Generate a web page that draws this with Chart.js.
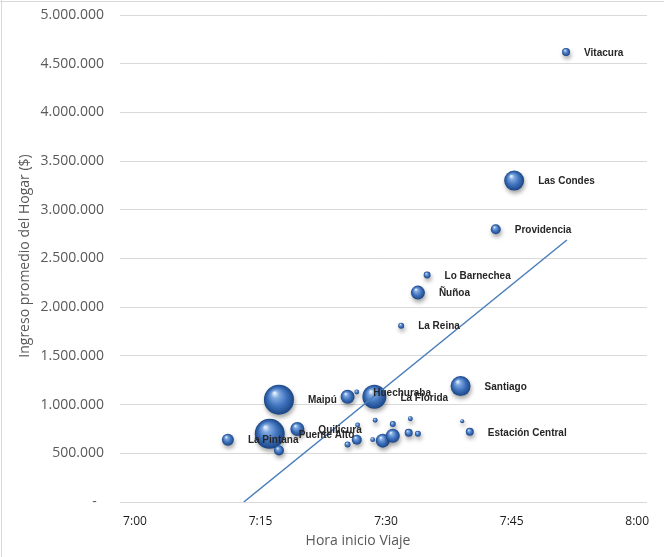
<!DOCTYPE html>
<html>
<head>
<meta charset="utf-8">
<script src="https://cdn.jsdelivr.net/npm/chart.js@4/dist/chart.umd.min.js"></script>
<style>
html,body{margin:0;padding:0;background:#fff}
#wrap{width:664px;height:557px;position:relative}
</style>
</head>
<body>
<div id="wrap"><canvas id="c" width="664" height="557"></canvas></div>
<script>
// ---- Data ----
const comunas = ['Vitacura','Las Condes','Providencia','Lo Barnechea','Ñuñoa','La Reina','Santiago','Estación Central','',
  'Maipú','','Huechuraba','La Florida','La Pintana','Puente Alto','Quilicura','',
  '','','','','','','','','','',''];
// minutes after 7:00
const horaInicio = [51.5,45.3,43.1,34.9,33.8,31.8,38.9,40.0,39.1,
  17.2,25.4,26.5,28.6,11.1,16.1,19.4,17.2,
  28.7,30.8,32.9,26.6,26.5,25.4,28.4,29.6,30.8,32.7,33.8];
const ingresoHogar = [4620000,3300000,2800000,2330000,2150000,1810000,1190000,720000,830000,
  1050000,1080000,1130000,1080000,640000,700000,750000,530000,
  840000,800000,855000,790000,640000,590000,640000,630000,680000,710000,700000];
// bubble weight (relative number of trips)
const viajes = [16,100,25,12,49,9,100,16,4,
  225,49,6,144,36,225,49,25,
  6,9,6,6,25,9,6,49,49,16,9];
const tendenciaX = [13.0, 51.6];
const tendenciaY = [0, 2690000];
const xTicks = [0,15,30,45,60];
const xTickLabels = ['7:00','7:15','7:30','7:45','8:00'];
const yMin = 0, yMax = 5000000, yStep = 500000;
const tituloX = 'Hora inicio Viaje';
const tituloY = 'Ingreso promedio del Hogar ($)';

const bubbleData = comunas.map((n,i)=>({x:horaInicio[i], y:ingresoHogar[i], r:Math.sqrt(viajes[i])}));
const trendData = tendenciaX.map((x,i)=>({x:x, y:tendenciaY[i]}));

function sphere(c){
  const ch = c.chart; const raw = c.raw;
  if(!raw || !ch.scales || !ch.scales.x || !ch.scales.y) return '#4f81bd';
  const x = ch.scales.x.getPixelForValue(raw.x), y = ch.scales.y.getPixelForValue(raw.y), r = Math.max(raw.r,1);
  if(!isFinite(x) || !isFinite(y)) return '#4f81bd';
  const g = ch.ctx.createRadialGradient(x - r*0.3, y - r*0.45, r*0.05, x, y, r);
  g.addColorStop(0, '#e4eefa');
  g.addColorStop(0.22, '#7fa8e0');
  g.addColorStop(0.6, '#3f72bd');
  g.addColorStop(1, '#1a4584');
  return g;
}
function fmt(v){ return v===0 ? '-  ' : String(v).replace(/\B(?=(\d{3})+(?!\d))/g,'.'); }

const deco = {
  id:'deco',
  beforeDraw(chart){
    const ctx = chart.ctx;
    ctx.save();
    ctx.fillStyle = '#fff'; ctx.fillRect(0,0,chart.width,chart.height);
    ctx.strokeStyle = '#d9d9d9'; ctx.lineWidth = 1;
    ctx.beginPath(); ctx.moveTo(1.5,0); ctx.lineTo(1.5,chart.height); ctx.moveTo(0,1.5); ctx.lineTo(chart.width,1.5); ctx.stroke();
    ctx.restore();
  },
  beforeDatasetDraw(chart, args){
    if(args.meta.type === 'bubble'){
      const ctx = chart.ctx; ctx.save();
      ctx.shadowColor = 'rgba(0,0,0,0.35)'; ctx.shadowBlur = 4; ctx.shadowOffsetX = 1; ctx.shadowOffsetY = 3;
    }
  },
  afterDatasetDraw(chart, args){
    if(args.meta.type === 'bubble') chart.ctx.restore();
  },
  afterDatasetsDraw(chart){
    const ctx = chart.ctx;
    const meta = chart.getDatasetMeta(1);
    ctx.save();
    ctx.font = 'bold 10px "Liberation Sans"';
    ctx.fillStyle = '#262626';
    ctx.textBaseline = 'middle';
    ctx.textAlign = 'left';
    meta.data.forEach((el,i)=>{
      const name = comunas[i]; if(!name) return;
      ctx.fillText(name, el.x + el.options.radius + 14, el.y + 1);
    });
    ctx.font = '14px "Open Sans"';
    ctx.fillStyle = '#595959';
    ctx.textAlign = 'center';
    ctx.fillText(tituloX, 358, 541);
    ctx.translate(25, 256);
    ctx.rotate(-Math.PI/2);
    ctx.fillText(tituloY, 0, 0);
    ctx.restore();
  }
};

new Chart(document.getElementById('c'), {
  type: 'bubble',
  data: {
    datasets: [
      { type:'line', label:'Tendencia', data: trendData, borderColor:'#4a7ebb', borderWidth:1.5,
        pointRadius:0, fill:false, tension:0 },
      { type:'bubble', label:'Comunas', data: bubbleData, backgroundColor: sphere, borderWidth:0, hoverRadius:0 }
    ]
  },
  options: {
    responsive:false,
    devicePixelRatio:1,
    animation:false,
    events:[],
    layout:{ autoPadding:false, padding:{ left:0, top:15, right:17, bottom:0 } },
    plugins:{ legend:{display:false}, tooltip:{enabled:false} },
    scales:{
      x:{
        type:'linear', min:-1.79, max:61.17,
        afterBuildTicks:(s)=>{ s.ticks = xTicks.map(v=>({value:v})); },
        afterFit:(s)=>{ s.height = 55; s.paddingLeft = 0; s.paddingRight = 0; },
        grid:{ display:false, drawTicks:false },
        border:{ display:false },
        ticks:{ padding:12, autoSkip:false, maxRotation:0, color:'#1a1a1a',
          font:{ family:'"Open Sans"', size:12 },
          callback:(v)=>{ const k = xTicks.indexOf(v); return k>=0 ? xTickLabels[k] : ''; } }
      },
      y:{
        type:'linear', min:yMin, max:yMax,
        afterFit:(s)=>{ s.width = 120; s.paddingTop = 8; s.paddingBottom = 8; },
        grid:{ color:'#d9d9d9', lineWidth:1, drawTicks:false },
        border:{ display:false },
        ticks:{ stepSize:yStep, padding:16, color:'#595959',
          font:{ family:'"Open Sans"', size:14 }, callback:(v)=>fmt(v) }
      }
    }
  },
  plugins:[deco]
});
</script>
</body>
</html>
